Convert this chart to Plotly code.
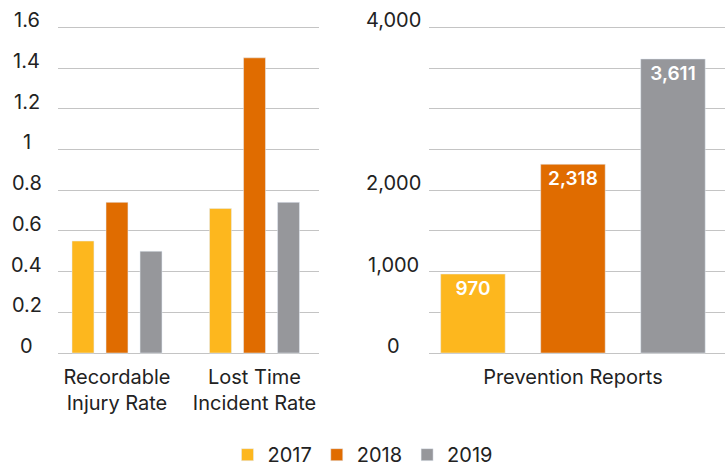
import plotly.graph_objects as go

years = ["2017", "2018", "2019"]
colors = ["#FDB71E", "#E06C00", "#96979B"]

rate_categories = ["Recordable Injury Rate", "Lost Time Incident Rate"]
rate_labels = ["Recordable<br>Injury Rate", "Lost Time<br>Incident Rate"]
rates_2017 = [0.55, 0.71]
rates_2018 = [0.74, 1.45]
rates_2019 = [0.50, 0.74]
rates = [rates_2017, rates_2018, rates_2019]

report_category = ["Prevention Reports"]
reports_2017 = [970]
reports_2018 = [2318]
reports_2019 = [3611]
reports = [reports_2017, reports_2018, reports_2019]

rate_ticks = [0, 0.2, 0.4, 0.6, 0.8, 1.0, 1.2, 1.4, 1.6]
rate_tick_text = ["0", "0.2", "0.4", "0.6", "0.8", "1", "1.2", "1.4", "1.6"]
report_grid = [0, 500, 1000, 1500, 2000, 2500, 3000, 3500, 4000]
report_ticks = [0, 1000, 2000, 4000]
report_tick_text = ["0", "1,000", "2,000", "4,000"]

FONT = "Inter, 'Noto Sans', sans-serif"
TXT = "#222222"
GRID = "#C4C4C4"

fig = go.Figure()
for yr, col, vals in zip(years, colors, rates):
    fig.add_trace(go.Bar(x=rate_categories, y=vals, name=yr, marker_color=col,
                         xaxis="x", yaxis="y", legendgroup=yr, showlegend=True,
                         hoverinfo="skip"))
for yr, col, vals in zip(years, colors, reports):
    fig.add_trace(go.Bar(x=report_category, y=vals, name=yr, marker_color=col,
                         xaxis="x2", yaxis="y2", legendgroup=yr, showlegend=False,
                         text=[f"{v:,}" for v in vals], textposition="inside",
                         insidetextanchor="end",
                         textfont=dict(color="white", size=19, family=FONT, weight=600),
                         hoverinfo="skip"))

annotations = []
for v, t in zip(rate_ticks, rate_tick_text):
    annotations.append(dict(x=-0.0465, xref="paper", y=v, yref="y", text=t,
                            showarrow=False, xanchor="center", yanchor="middle",
                            yshift=7, font=dict(size=20, color=TXT, family=FONT)))
for v, t in zip(report_ticks, report_tick_text):
    annotations.append(dict(x=0.5037, xref="paper", y=v, yref="y2", text=t,
                            showarrow=False, xanchor="center", yanchor="middle",
                            yshift=7, font=dict(size=20, color=TXT, family=FONT)))

fig.update_layout(
    width=725, height=469,
    margin=dict(l=58, r=0, t=25, b=114, autoexpand=False),
    paper_bgcolor="white", plot_bgcolor="white",
    font=dict(family=FONT, size=20, color=TXT),
    barmode="group", bargap=0.258, bargroupgap=0.355,
    xaxis=dict(domain=[0, 0.3913], type="category", range=[-0.429, 1.469],
               tickvals=rate_categories, ticktext=rate_labels, ticklabelstandoff=8,
               automargin=False,
               showgrid=False, showline=False, ticks="", tickfont=dict(size=20, color=TXT)),
    yaxis=dict(domain=[0, 1], range=[-0.0098, 1.6113], tickvals=rate_ticks,
               automargin=False,
               showticklabels=False, showgrid=True, gridcolor=GRID, gridwidth=1,
               zeroline=False, ticks=""),
    xaxis2=dict(domain=[0.5562, 1], type="category", range=[-0.356, 0.376],
                ticklabelstandoff=8, automargin=False,
                showgrid=False, showline=False, ticks="", tickfont=dict(size=20, color=TXT)),
    yaxis2=dict(domain=[0, 1], anchor="x2", range=[-24.6, 4028.3], tickvals=report_grid,
                automargin=False,
                showticklabels=False, showgrid=True, gridcolor=GRID, gridwidth=1,
                zeroline=False, ticks=""),
    legend=dict(orientation="h", x=0.4565, xanchor="center", y=-0.302, yanchor="middle",
                font=dict(size=20, color=TXT, family=FONT), traceorder="normal",
                itemwidth=30),
    annotations=annotations,
)

fig.write_html("out.html", config={"displayModeBar": False},
               post_script="document.body.style.margin='0';")
